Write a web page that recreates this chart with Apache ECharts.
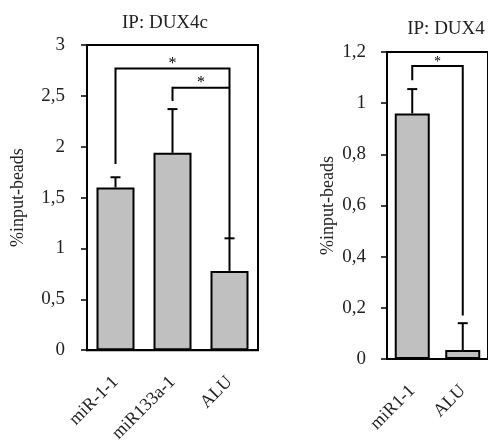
<!DOCTYPE html>
<html>
<head>
<meta charset="utf-8">
<script src="https://cdn.jsdelivr.net/npm/echarts@6/dist/echarts.min.js"></script>
<style>
  html, body { margin: 0; padding: 0; background: #fff; }
  #main { width: 488px; height: 445px; }
</style>
</head>
<body>
<div id="main"></div>
<script>
// left panel: IP DUX4c
const leftCats = ['miR-1-1', 'miR133a-1', 'ALU'];
const leftMeans = [1.6, 1.94, 0.78];
const leftErrTop = [1.7, 2.37, 1.1];
// [fromCat, toCat, top, leftLegBottom, rightLegBottom]
const leftBrackets = [[0, 2, 2.77, 1.83, 1.1], [1, 2, 2.58, 2.45, 2.58]];

// right panel: IP DUX4
const rightCats = ['miR1-1', 'ALU'];
const rightMeans = [0.96, 0.035];
const rightErrTop = [1.055, 0.14];
const rightBrackets = [[0, 1, 1.145, 1.09, 0.17]];

const serif = "'Liberation Serif', 'Times New Roman', serif";
const txt = '#222';

const commaFmt = v => String(Math.round(v * 10) / 10).replace('.', ',');

function errRender(params, api) {
  const x = api.value(0);
  const lo = api.coord([x, api.value(1)]);
  const hi = api.coord([x, api.value(2)]);
  const st = { stroke: '#000', lineWidth: 2 };
  return {
    type: 'group',
    children: [
      { type: 'line', shape: { x1: lo[0], y1: lo[1], x2: hi[0], y2: hi[1] }, style: st },
      { type: 'line', shape: { x1: hi[0] - 5, y1: hi[1], x2: hi[0] + 5, y2: hi[1] }, style: st }
    ]
  };
}

function bracketRender(starSize) {
  return function (params, api) {
    const a = api.value(0), b = api.value(1), top = api.value(2);
    const p1 = api.coord([a, api.value(3)]);
    const p2 = api.coord([a, top]);
    const p3 = api.coord([b, top]);
    const p4 = api.coord([b, api.value(4)]);
    return {
      type: 'group',
      children: [
        {
          type: 'polyline',
          shape: { points: [p1, p2, p3, p4] },
          style: { stroke: '#000', lineWidth: 2, fill: null }
        },
        {
          type: 'text',
          style: {
            text: '*', x: (p2[0] + p3[0]) / 2, y: p2[1] + 3,
            align: 'center', verticalAlign: 'bottom',
            fontSize: starSize, fontFamily: serif, fill: '#000'
          }
        }
      ]
    };
  };
}

function xAxisOf(idx, cats) {
  return {
    type: 'category', gridIndex: idx, data: cats,
    axisLine: { lineStyle: { color: '#000', width: 2 } },
    axisTick: { length: 5, lineStyle: { color: '#000', width: 1.5 } },
    axisLabel: { interval: 0, rotate: 45, margin: 29, color: txt, fontFamily: serif, fontSize: 18 }
  };
}

function yAxisOf(idx, max, step, gap, margin) {
  return {
    type: 'value', gridIndex: idx, min: 0, max: max, interval: step,
    name: '%input-beads', nameLocation: 'middle', nameGap: gap,
    nameTextStyle: { color: txt, fontFamily: serif, fontSize: 18 },
    splitLine: { show: false },
    axisLine: { show: true, lineStyle: { color: '#000', width: 2 } },
    axisTick: { show: true, length: 6, lineStyle: { color: '#000', width: 1.5 } },
    axisLabel: { margin: margin, color: txt, fontFamily: serif, fontSize: 19, formatter: commaFmt }
  };
}

const chart = echarts.init(document.getElementById('main'));
chart.setOption({
  animation: false,
  title: [
    { text: 'IP: DUX4c', left: 160, top: 9, textAlign: 'center',
      textStyle: { color: txt, fontFamily: serif, fontSize: 19, fontWeight: 'normal' } },
    { text: 'IP: DUX4', left: 441, top: 15, textAlign: 'center',
      textStyle: { color: txt, fontFamily: serif, fontSize: 19, fontWeight: 'normal' } }
  ],
  grid: [
    { left: 87, top: 45, width: 171, height: 307, show: true, borderColor: '#000', borderWidth: 2 },
    { left: 387, top: 52, width: 102, height: 307, show: true, borderColor: '#000', borderWidth: 2 }
  ],
  xAxis: [xAxisOf(0, leftCats), xAxisOf(1, rightCats)],
  yAxis: [yAxisOf(0, 3, 0.5, 60, 22), yAxisOf(1, 1.2, 0.2, 50, 21)],
  series: [
    {
      type: 'bar', xAxisIndex: 0, yAxisIndex: 0, data: leftMeans, barWidth: 38,
      itemStyle: { color: '#c0c0c0', borderColor: '#000', borderWidth: 2 }
    },
    {
      type: 'bar', xAxisIndex: 1, yAxisIndex: 1, data: rightMeans, barWidth: 35,
      itemStyle: { color: '#c0c0c0', borderColor: '#000', borderWidth: 2 }
    },
    {
      type: 'custom', xAxisIndex: 0, yAxisIndex: 0, renderItem: errRender,
      encode: { x: 0, y: [1, 2] },
      data: leftMeans.map((v, i) => [i, v, leftErrTop[i]]), z: 3
    },
    {
      type: 'custom', xAxisIndex: 1, yAxisIndex: 1, renderItem: errRender,
      encode: { x: 0, y: [1, 2] },
      data: rightMeans.map((v, i) => [i, v, rightErrTop[i]]), z: 3
    },
    {
      type: 'custom', xAxisIndex: 0, yAxisIndex: 0, renderItem: bracketRender(16),
      encode: { x: [0, 1], y: [2, 3, 4] }, data: leftBrackets, z: 3
    },
    {
      type: 'custom', xAxisIndex: 1, yAxisIndex: 1, renderItem: bracketRender(14),
      encode: { x: [0, 1], y: [2, 3, 4] }, data: rightBrackets, z: 3
    }
  ]
});
</script>
</body>
</html>
